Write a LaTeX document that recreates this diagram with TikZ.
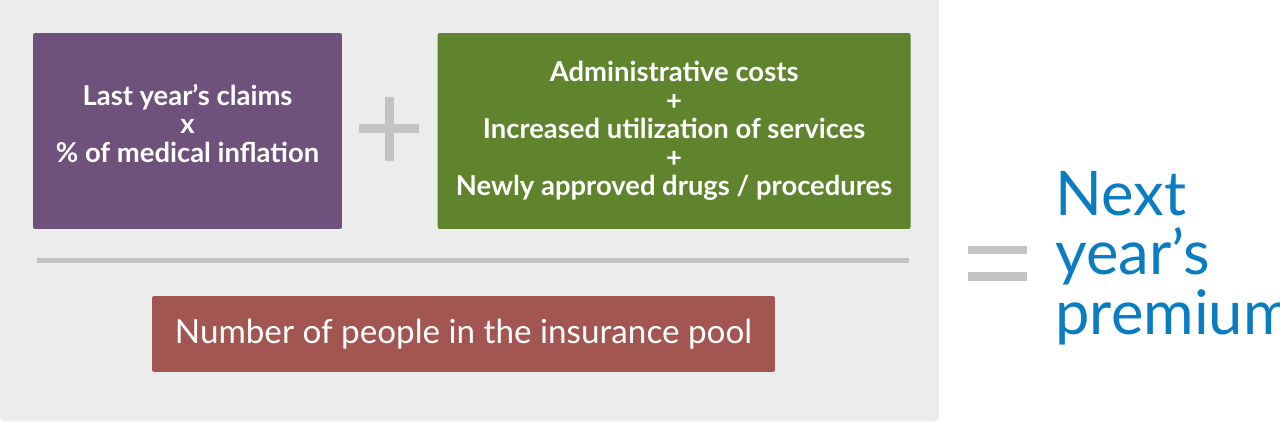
\documentclass[tikz,border=0pt]{standalone}
\usepackage{fontspec}
\setmainfont{Lato}
\usetikzlibrary{positioning}
\definecolor{pnlgray}{HTML}{ECECEC}
\definecolor{signgray}{HTML}{C3C3C3}
\definecolor{clmpurple}{HTML}{6E527C}
\definecolor{costgreen}{HTML}{60842D}
\definecolor{poolred}{HTML}{A25551}
\definecolor{premblue}{HTML}{0A7DC2}
\begin{document}
\begin{tikzpicture}[x=0.02cm,y=-0.02cm,every node/.style={align=center,inner sep=0pt},
    termbox/.style={rounded corners=1.2pt,minimum height=3.92cm},
    termtext/.style={text=white,font=\fontsize{15.6}{16.2}\selectfont\bfseries},
    sign/.style={fill=signgray}]
  \fill[white] (0,0) rectangle (1280,422);
  \useasboundingbox (0,0) rectangle (1280,422);
  % grey panel behind the fraction
  \fill[pnlgray] (0,0) -- (939,0) [rounded corners=2pt] -- (939,421) -- (0,421) [sharp corners] -- cycle;
  \node[termbox,fill=clmpurple,minimum width=6.18cm] (claims) at (187.5,131) {};
  \node[termtext] (claimstext) at ([yshift=4.5pt]claims.center) {Last year’s claims\\x\\\% of medical inflation};
  \node[termbox,fill=costgreen,minimum width=9.46cm,right=1.9cm of claims] (extras) {};
  \node[termtext] (extrastext) at (extras.center) {Administrative costs\\+\\Increased utilization of services\\+\\Newly approved drugs / procedures};
  % plus sign
  \fill[sign] (359,124) rectangle (419,133);
  \fill[sign] (384.5,97) rectangle (394,161);
  % fraction bar
  \fill[sign] (37,258) rectangle (909,263);
  \node[rounded corners=1.2pt,fill=poolred,minimum width=12.46cm,minimum height=1.52cm,text=white,
    font=\fontsize{18.9}{20}\selectfont] (pool) at (463.5,334) {Number of people in the insurance pool};
  % equals sign
  \fill[sign] (968,246) rectangle (1027,254);
  \fill[sign] (968,272) rectangle (1027,281);
  \node[anchor=west,align=left,text=premblue,font=\fontsize{35}{34}\selectfont] (premium) at (1055,258) {Next\\year’s\\premium};
\end{tikzpicture}
\end{document}
